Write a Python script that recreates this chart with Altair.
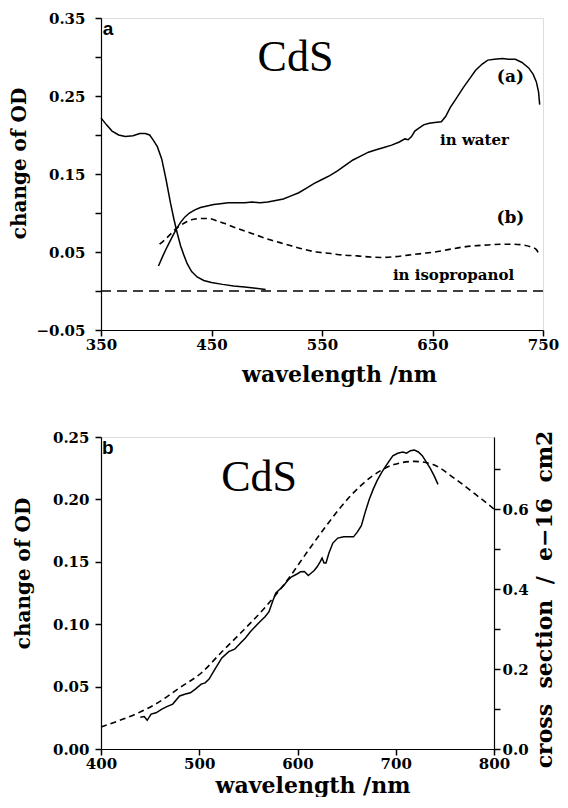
import altair as alt
import pandas as pd

# ---------------- panel a ----------------
abs_x = [350, 355, 360, 366, 372, 379, 385, 390, 394, 397,
         401, 405, 409, 413, 416, 419, 422, 425, 428, 432,
         437, 443, 450, 460, 470, 480, 490, 499]
abs_y = [0.222, 0.213, 0.205, 0.200, 0.198, 0.199, 0.202, 0.202, 0.200, 0.194,
         0.185, 0.169, 0.142, 0.112, 0.092, 0.074, 0.058, 0.046, 0.035, 0.025,
         0.018, 0.0135, 0.011, 0.0085, 0.0065, 0.005, 0.0035, 0.002]

water_x = [402, 406, 410, 414, 418, 422, 426, 430, 435, 440,
           446, 452, 458, 465, 472, 480, 487, 494, 501, 508,
           515, 522, 529, 536, 543, 550, 557, 564, 571, 578,
           585, 592, 599, 606, 613, 620, 625, 628, 631, 634,
           638, 642, 647, 652, 658, 662, 666, 672, 678, 684,
           689, 695, 700, 706, 713, 719, 725, 731, 737, 741,
           744, 746, 747]
water_y = [0.032, 0.045, 0.057, 0.068, 0.079, 0.088, 0.095, 0.100, 0.104, 0.107,
           0.109, 0.111, 0.112, 0.113, 0.113, 0.113, 0.114, 0.113, 0.114, 0.116,
           0.118, 0.122, 0.126, 0.132, 0.138, 0.143, 0.148, 0.154, 0.161, 0.168,
           0.173, 0.178, 0.181, 0.184, 0.187, 0.191, 0.195, 0.194, 0.198, 0.205,
           0.209, 0.213, 0.215, 0.216, 0.217, 0.224, 0.235, 0.248, 0.261, 0.273,
           0.283, 0.291, 0.296, 0.297, 0.298, 0.297, 0.297, 0.293, 0.286, 0.278,
           0.268, 0.255, 0.239]

iso_x = [403, 408, 413, 418, 423, 428, 434, 440, 447, 455,
         463, 472, 482, 492, 502, 512, 522, 532, 545, 558,
         570, 582, 594, 604, 616, 628, 640, 652, 664, 676,
         688, 700, 712, 722, 732, 740, 744, 747]
iso_y = [0.060, 0.066, 0.073, 0.080, 0.085, 0.089, 0.092, 0.093, 0.093, 0.090,
         0.086, 0.081, 0.076, 0.071, 0.066, 0.062, 0.058, 0.054, 0.050, 0.048,
         0.046, 0.045, 0.0435, 0.043, 0.044, 0.046, 0.048, 0.050, 0.053, 0.056,
         0.058, 0.059, 0.060, 0.060, 0.059, 0.056, 0.053, 0.045]

base_x = [350, 750]
base_y = [0.0, 0.0]

a_x_ticks = [350, 450, 550, 650, 750]
a_y_ticks = [-0.05, 0.0, 0.05, 0.10, 0.15, 0.20, 0.25, 0.30, 0.35]

# ---------------- panel b ----------------
od_x = [440, 444, 447, 451, 456, 462, 467, 473, 480, 486,
        491, 496, 502, 506, 510, 516, 523, 530, 536, 542,
        547, 552, 558, 563, 567, 571, 575, 578, 582, 586,
        590, 594, 599, 603, 607, 611, 614, 617, 620, 623,
        625, 627, 629, 632, 636, 641, 647, 652, 657, 661,
        665, 669, 673, 677, 681, 686, 691, 697, 702, 707,
        711, 715, 719, 723, 727, 731, 735, 739, 743]
od_y = [0.0255, 0.026, 0.023, 0.028, 0.029, 0.032, 0.034, 0.036, 0.0425, 0.044,
        0.045, 0.048, 0.052, 0.053, 0.056, 0.064, 0.073, 0.078, 0.080, 0.085,
        0.089, 0.094, 0.099, 0.103, 0.106, 0.110, 0.119, 0.125, 0.128, 0.131,
        0.135, 0.138, 0.140, 0.142, 0.1423, 0.139, 0.141, 0.143, 0.146, 0.150,
        0.153, 0.149, 0.149, 0.157, 0.165, 0.169, 0.170, 0.170, 0.170, 0.174,
        0.179, 0.190, 0.200, 0.208, 0.215, 0.222, 0.228, 0.235, 0.237, 0.238,
        0.237, 0.239, 0.2395, 0.238, 0.235, 0.230, 0.225, 0.219, 0.212]

cs_x = [400, 414, 436, 458, 480, 502, 523, 545, 567, 589,
        610, 632, 654, 676, 698, 719, 738, 759, 781, 800]
cs_y = [0.055, 0.067, 0.088, 0.116, 0.153, 0.190, 0.243, 0.297, 0.354, 0.420,
        0.493, 0.567, 0.633, 0.682, 0.711, 0.719, 0.711, 0.678, 0.637, 0.600]

b_x_ticks = [400, 500, 600, 700, 800]
b_yl_ticks = [0.0, 0.05, 0.10, 0.15, 0.20, 0.25]
b_yr_ticks = [0.0, 0.1, 0.2, 0.3, 0.4, 0.5, 0.6, 0.7]

SERIF = "DejaVu Serif"
SANS = "Liberation Sans"
NB = "\u00a0"

def df(xs, ys):
    return pd.DataFrame({"x": xs, "y": ys})

axis_style = dict(
    grid=False, ticks=True, domainColor="black", tickColor="black", labelColor="black",
    titleColor="black", labelFont=SERIF, labelFontSize=15, labelFontWeight="bold",
    titleFont=SERIF, titleFontWeight="bold", tickSize=6,
    domainWidth=1.2, tickWidth=1.5, labelFlush=False,
)

# ----- panel a -----
AW, AH = 442, 312
ax = alt.X("x:Q", scale=alt.Scale(domain=[350, 750], nice=False, zero=False),
           axis=alt.Axis(values=a_x_ticks, format="d", title="wavelength /nm",
                         titleFontSize=22, labelPadding=1, titlePadding=12,
                         titleX=AW / 2 + 17, **axis_style))
ay = alt.Y("y:Q", scale=alt.Scale(domain=[-0.05, 0.35], nice=False, zero=False),
           axis=alt.Axis(values=a_y_ticks,
                         labelExpr="abs(round(datum.value*100)) % 10 == 5 ? format(datum.value, '.2f') : ''",
                         title="change of OD", titleFontSize=20, labelPadding=10,
                         titleX=-72, titleY=AH / 2 - 11, **axis_style))

a_lines = [
    alt.Chart(df(abs_x, abs_y)).mark_line(color="black", strokeWidth=1.5),
    alt.Chart(df(water_x, water_y)).mark_line(color="black", strokeWidth=1.5),
    alt.Chart(df(iso_x, iso_y)).mark_line(color="black", strokeWidth=1.6,
                                          strokeDash=[6, 4], interpolate="monotone"),
    alt.Chart(df(base_x, base_y)).mark_line(color="black", strokeWidth=1.5,
                                            strokeDash=[10, 6]),
]
a_lines = [c.encode(x=ax, y=ay) for c in a_lines]

def label(x, y, text, font, size, weight="bold", align="center", baseline="middle"):
    d = pd.DataFrame({"x": [x], "y": [y], "t": [text]})
    return alt.Chart(d).mark_text(font=font, fontSize=size, fontWeight=weight,
                                  align=align, baseline=baseline, color="black")

a_texts = [
    label(351.5, 0.347, "a", SANS, 19, align="left", baseline="top"),
    label(526, 0.299, "CdS", "Liberation Serif", 44, weight="normal"),
    label(720.5, 0.274, "(a)", SERIF, 17),
    label(688, 0.194, "in water", SERIF, 15),
    label(720.5, 0.093, "(b)", SERIF, 17),
    label(669, 0.021, "in isopropanol", SERIF, 15),
]
a_texts = [c.encode(x=ax, y=ay, text="t:N") for c in a_texts]

top = alt.layer(*a_lines, *a_texts).properties(width=AW, height=AH)

# ----- panel b -----
BW, BH = 393, 312
bx = alt.X("x:Q", scale=alt.Scale(domain=[400, 800], nice=False, zero=False),
           axis=alt.Axis(values=b_x_ticks, format="d", title="wavelength /nm",
                         titleFontSize=22, labelPadding=1, titlePadding=4,
                         titleX=BW / 2 + 15, **axis_style))
byl = alt.Y("y:Q", scale=alt.Scale(domain=[0, 0.25], nice=False, zero=False),
            axis=alt.Axis(values=b_yl_ticks, format=".2f", title="change of OD",
                          titleFontSize=20, labelPadding=6,
                          titleX=-68, titleY=BH / 2 - 20, **axis_style))
byr = alt.Y("y:Q", scale=alt.Scale(domain=[0, 0.78], nice=False, zero=False),
            axis=alt.Axis(values=b_yr_ticks, orient="right",
                          labelExpr="round(datum.value*10) % 2 == 0 ? format(datum.value, '.1f') : ''",
                          title="cross" + NB * 2 + "section" + NB * 2 + "/" + NB * 2
                                + "e\u221216" + NB * 2 + "cm2",
                          titleFontSize=22, titleAngle=270, titleBaseline="top",
                          labelPadding=2, titlePadding=6, titleY=BH / 2 + 6,
                          **axis_style))

b_left = alt.layer(
    alt.Chart(df(od_x, od_y)).mark_line(color="black", strokeWidth=1.5).encode(x=bx, y=byl),
    label(401, 0.248, "b", SANS, 19, align="left", baseline="top").encode(x=bx, y=byl, text="t:N"),
    label(561, 0.217, "CdS", "Liberation Serif", 44, weight="normal").encode(x=bx, y=byl, text="t:N"),
)
b_right = alt.Chart(df(cs_x, cs_y)).mark_line(
    color="black", strokeWidth=1.6, strokeDash=[6, 4], interpolate="monotone"
).encode(x=bx, y=byr)

bottom = alt.layer(b_left, b_right).resolve_scale(y="independent").properties(width=BW, height=BH)

chart = alt.vconcat(top, bottom, spacing=43).properties(
    padding={"left": 0, "top": 2, "right": 0, "bottom": 0}
).configure_view(stroke="black", strokeWidth=1.2).configure(background="white")

chart.save("out.html", embed_options={"renderer": "svg", "actions": False})
